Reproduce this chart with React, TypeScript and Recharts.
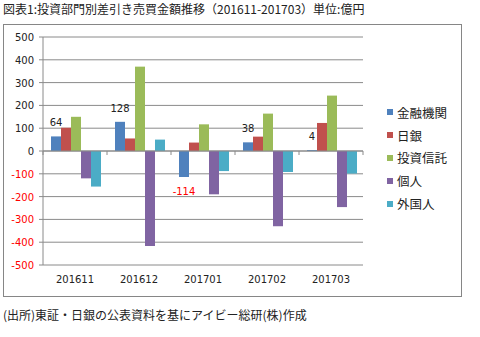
import { BarChart, Bar, XAxis, YAxis, CartesianGrid, Legend, LabelList, ReferenceLine } from 'recharts';

const months = ['201611', '201612', '201701', '201702', '201703'];
const seriesNames = ['金融機関', '日銀', '投資信託', '個人', '外国人'];
const kinyu = [64, 128, -114, 38, 4];
const nichigin = [102, 55, 37, 63, 123];
const toshin = [150, 370, 117, 164, 243];
const kojin = [-120, -417, -190, -330, -246];
const gaikoku = [-156, 50, -88, -92, -99];
const yTicks = [-500, -400, -300, -200, -100, 0, 100, 200, 300, 400, 500];

const data = months.map((m, i) => ({
    month: m,
    金融機関: kinyu[i],
    日銀: nichigin[i],
    投資信託: toshin[i],
    個人: kojin[i],
    外国人: gaikoku[i],
}));

const colors = ['#4f81bd', '#c0504d', '#9bbb59', '#8064a2', '#4bacc6'];

const numFont = '"DejaVu Sans", sans-serif';
const jpFont = '"Noto Sans CJK JP", sans-serif';
const gridColor = '#8a8a8a';

const YTick = (props: any) => {
    const { x, y, payload } = props;
    const v = payload.value;
    return (
        <text x={x} y={y} dy={4} textAnchor="end" fontSize={10} fontFamily={numFont} fill={v < 0 ? '#ff0000' : '#222'}>
            {v}
        </text>
    );
};

const XTick = (props: any) => {
    const { x, y, payload } = props;
    return (
        <text x={x} y={y} dy={10} textAnchor="middle" fontSize={10} fontFamily={numFont} fill="#222">
            {payload.value}
        </text>
    );
};

const renderLabel = (props: any) => {
    const { x, y, width, height, value } = props;
    const top = Math.min(y, y + height);
    const bottom = Math.max(y, y + height);
    const neg = value < 0;
    return (
        <text
            x={x + width / 2}
            y={neg ? bottom + 18 : top - 10}
            textAnchor="middle"
            fontSize={10}
            fontFamily={numFont}
            fill={neg ? '#ff0000' : '#222'}
        >
            {value}
        </text>
    );
};

// zero line with category tick marks like Excel's crossing axis
const ZeroLine = (props: any) => {
    const { x1, y1, x2, y2 } = props;
    const n = months.length;
    const step = (x2 - x1) / n;
    return (
        <g>
            <line x1={x1} y1={y1} x2={x2} y2={y2} stroke={gridColor} />
            {Array.from({ length: n + 1 }, (_, i) => (
                <line key={i} x1={x1 + i * step} y1={y1} x2={x1 + i * step} y2={y1 + 4} stroke={gridColor} />
            ))}
        </g>
    );
};

const renderLegend = (props: any) => {
    const payload = [...(props.payload || [])].sort(
        (a: any, b: any) => seriesNames.indexOf(a.value) - seriesNames.indexOf(b.value)
    );
    return (
        <div style={{ fontFamily: jpFont, fontSize: 12.5, color: '#222' }}>
            {payload.map((p: any) => (
                <div key={p.value} style={{ height: 22.8, display: 'flex', alignItems: 'center' }}>
                    <span style={{ width: 6, height: 6, background: p.color, marginRight: 4, display: 'inline-block' }} />
                    <span>{p.value}</span>
                </div>
            ))}
        </div>
    );
};

export default function App() {
    return (
        <div style={{ position: 'absolute', left: 0, top: 0, width: 480, height: 337, background: '#fff' }}>
            <div style={{ position: 'absolute', left: 3, top: 0, fontFamily: jpFont, fontSize: 12, lineHeight: '17px', color: '#222', whiteSpace: 'nowrap' }}>
                図表1:投資部門別差引き売買金額推移（201611-201703）単位:億円
            </div>
            <div style={{ position: 'absolute', left: 3, top: 24, width: 457, height: 271, border: '1px solid #868686' }}>
                <BarChart
                    width={457}
                    height={271}
                    data={data}
                    margin={{ top: 12, right: 98, bottom: 0, left: 0 }}
                    barCategoryGap={8}
                    barGap={0}
                >
                    <CartesianGrid vertical={false} stroke={gridColor} />
                    <XAxis dataKey="month" height={31} axisLine={false} tickLine={false} tick={<XTick />} />
                    <YAxis
                        width={39}
                        domain={[-500, 500]}
                        ticks={yTicks}
                        interval={0}
                        stroke={gridColor}
                        tickSize={4}
                        tickMargin={5}
                        tick={<YTick />}
                    />
                    <ReferenceLine y={0} shape={<ZeroLine />} />
                    <Legend
                        layout="vertical"
                        align="center"
                        verticalAlign="middle"
                        content={renderLegend}
                        wrapperStyle={{ left: 383, top: 76, width: 80 }}
                    />
                    {seriesNames.map((name, i) => (
                        <Bar key={name} dataKey={name} fill={colors[i]} isAnimationActive={false}>
                            {i === 0 && <LabelList dataKey={name} content={renderLabel} />}
                        </Bar>
                    ))}
                </BarChart>
            </div>
            <div style={{ position: 'absolute', left: 3, top: 306, fontFamily: jpFont, fontSize: 12, lineHeight: '17px', color: '#222', whiteSpace: 'nowrap' }}>
                (出所)東証・日銀の公表資料を基にアイビー総研(株)作成
            </div>
        </div>
    );
}
